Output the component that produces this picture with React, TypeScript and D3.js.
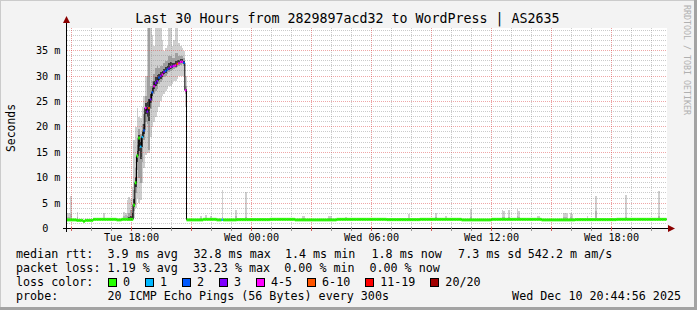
import React from "react";
import * as d3 from "d3";

// ---------------- data ----------------
const TITLE = "Last 30 Hours from 2829897acd32 to WordPress | AS2635";
const END_TIME = new Date(2025, 11, 10, 20, 44, 56);
const SPAN_HOURS = 30;
const STEP_SECONDS = 300;

// median rtt (ms) as runs [count, value] before the event
const medianPreRuns: [number, number][] = [
  [6, 1.7], [4, 1.6], [1, 1.4], [5, 1.6], [14, 1.8], [3, 1.7], [7, 1.8],
];
// median rtt (ms) during the event, steps 40..71
const EVENT_START = 40;
const medianEvent = [
  4.6, 9.0, 14.3, 17.8, 16.1, 18.0, 19.3, 23.7, 23.0, 23.7, 25.4, 26.8, 28.0, 28.6, 29.0, 29.7,
  30.0, 30.3, 30.8, 31.0, 31.3, 31.5, 31.8, 31.9, 32.0, 32.1, 32.4, 32.5, 32.8, 32.8, 32.6, 27.2,
];
// median rtt (ms) as runs after the event
const medianPostRuns: [number, number][] = [
  [10, 1.7], [8, 1.8], [12, 1.7], [20, 1.75], [15, 1.8], [25, 1.7], [30, 1.8], [20, 1.75],
  [25, 1.8], [18, 1.7], [30, 1.8], [20, 1.7], [25, 1.75], [30, 1.8],
];

// lost pings (of 20) during the event, steps 40..71
const lossEvent = [
  0, 0, 0, 0, 1, 1, 2, 4.5, 3, 6.6, 3, 2, 4.5, 2.5, 3, 2,
  3, 4, 3, 2, 2, 3, 4.5, 3, 4, 4, 6.2, 4, 4.5, 4, 2, 4.5,
];
const lossOtherIdx = [93];
const lossOtherVal = [1];

// smoke (ping distribution, ms) for steps 36..71
const SMOKE_START = 36;
const smokeMin = [
  1.5, 1.5, 1.5, 1.6, 2.0, 4.0, 6.0, 5.0, 5.6, 9.0, 12.0, 14.5, 14.8, 14.8, 18.0, 20.0,
  21.0, 22.0, 23.0, 24.0, 25.0, 26.0, 26.5, 27.0, 27.5, 28.0, 28.0, 28.5, 29.0, 29.0, 29.5, 30.0,
  30.0, 30.0, 30.0, 24.0,
];
const smokeQ1 = [
  1.6, 1.7, 1.7, 1.7, 3.5, 7.0, 11.5, 10.0, 9.0, 13.0, 17.5, 21.0, 20.5, 15.5, 23.5, 25.0,
  26.5, 27.0, 27.5, 28.5, 28.8, 29.2, 29.8, 30.0, 30.5, 30.8, 31.0, 31.2, 31.4, 31.5, 31.8, 32.0,
  32.2, 32.3, 32.0, 26.5,
];
const smokeQ3 = [
  2.4, 3.0, 3.6, 4.8, 7.5, 12.0, 16.5, 19.5, 18.5, 20.5, 22.5, 26.0, 30.0, 45.0, 28.0, 29.0,
  30.5, 31.5, 32.0, 31.5, 32.0, 32.0, 32.5, 33.0, 33.0, 34.0, 34.0, 33.5, 33.5, 34.5, 34.5, 34.0,
  34.0, 34.0, 33.5, 28.0,
];
const smokeMax = [
  5.6, 6.2, 5.8, 8.2, 17.4, 20.0, 23.7, 22.0, 21.7, 24.0, 26.0, 30.0, 45.0, 45.0, 45.0, 38.0,
  36.0, 45.0, 45.0, 45.0, 45.0, 37.0, 35.0, 35.5, 36.0, 45.0, 45.0, 36.0, 37.0, 45.0, 45.0, 36.5,
  36.0, 35.5, 35.0, 30.0,
];

// isolated smoke spikes in the quiet part
const spikeIdx = [
  0, 1, 2, 6, 22, 34, 35, 80, 83, 86, 93, 101, 107, 141, 142, 157, 158, 167, 205, 221, 227, 242,
  261, 262, 265, 270, 271, 282, 283, 298, 299, 300, 302, 303, 312, 317, 335, 355,
];
const spikeMax = [
  3.1, 3.0, 6.4, 3.3, 3.0, 3.2, 3.0, 2.5, 2.6, 2.4, 7.5, 3.6, 7.2, 2.5, 2.4, 2.5, 2.5, 2.3, 2.8, 3.0, 2.5, 3.9,
  3.6, 3.4, 3.6, 3.9, 3.5, 2.5, 2.4, 3.0, 3.0, 2.8, 3.0, 2.9, 2.5, 6.4, 6.6, 7.4,
];
const spikeMid = [
  2.2, 2.2, 2.8, 2.2, 2.1, 2.4, 2.6, 2.0, 2.0, 2.0, 2.3, 2.4, 2.3, 2.0, 2.0, 2.0, 2.0, 2.0, 2.1, 2.2, 2.0, 2.3,
  2.3, 2.2, 2.3, 2.4, 2.2, 2.0, 2.0, 2.2, 2.2, 2.1, 2.2, 2.1, 2.0, 3.4, 2.3, 2.4,
];

const lossLabels = ["0", "1", "2", "3", "4-5", "6-10", "11-19", "20/20"];
const lossUpper = [0, 1, 2, 3, 5, 10, 19, 20];
const lossColors = ["#26ff00", "#00b8ff", "#0059ff", "#7e00ff", "#ff00ff", "#ff5500", "#ff0000", "#a10000"];

const rttStats = [3.9, 32.8, 1.4, 1.8, 7.3];
const rttStatNames = ["avg", "max", "min", "now", "sd"];
const rttAmps = 542.2;
const lossStats = [1.19, 33.23, 0.0, 0.0];
const lossStatNames = ["avg", "max", "min", "now"];
const PROBE = "20 ICMP Echo Pings (56 Bytes) every 300s";
const STAMP = "Wed Dec 10 20:44:56 2025";
const Y_LABEL = "Seconds";
const WATERMARK = "RRDTOOL / TOBI OETIKER";

// ---------------- derived ----------------
const expandRuns = (runs: [number, number][]) => {
  const out: number[] = [];
  runs.forEach(([c, v]) => {
    for (let k = 0; k < c; k++) out.push(v);
  });
  return out;
};
const median = [...expandRuns(medianPreRuns), ...medianEvent, ...expandRuns(medianPostRuns)];
const N = median.length;
const loss = median.map(() => 0);
lossEvent.forEach((v, k) => (loss[EVENT_START + k] = v));
lossOtherIdx.forEach((idx, k) => (loss[idx] = lossOtherVal[k]));

const START = new Date(END_TIME.getTime() - SPAN_HOURS * 3600 * 1000);
const MONO = "'DejaVu Sans Mono', monospace";
const CW = 7.04; // legend char advance
const LX = 16; // legend left

const colorFor = (l: number) => lossColors[Math.max(0, lossUpper.findIndex((u) => l <= u))];

export default function App() {
  const x = d3.scaleTime().domain([START, END_TIME]).range([66.5, 666.5]);
  const yMax = (d3.max(median) as number) * 1.2;
  const y = d3.scaleLinear().domain([0, yMax]).range([228.5, 28.5]);
  const crisp = (v: number) => Math.round(v - 0.5) + 0.5;
  const stepX = (i: number) => x(new Date(START.getTime() + i * STEP_SECONDS * 1000));

  // smoke per step
  const smoke = median.map((m, i) => {
    const k = i - SMOKE_START;
    if (k >= 0 && k < smokeMin.length) {
      return { lo: smokeMin[k], q1: smokeQ1[k], q3: smokeQ3[k], hi: smokeMax[k], dark: true };
    }
    const s = spikeIdx.indexOf(i);
    if (s >= 0) return { lo: m - 0.15, q1: m - 0.05, q3: spikeMid[s], hi: spikeMax[s], dark: false };
    return { lo: m - 0.15, q1: m - 0.05, q3: m + 0.1, hi: m + 0.25, dark: false };
  });

  const medLine = d3
    .line<[number, number]>()
    .x((d) => d[0])
    .y((d) => d[1])
    .curve(d3.curveStepAfter);
  const linePts: [number, number][] = median.map((m, i) => [stepX(i), y(m)]);
  linePts.push([stepX(N), y(median[N - 1])]);

  const hours = d3.timeHour.range(d3.timeHour.ceil(START), END_TIME);
  const yMinor = d3.range(1, Math.floor(yMax) + 1).filter((v) => v % 5 !== 0);
  const yMajor = d3.range(5, Math.floor(yMax) + 1, 5);
  const yLabels = d3.range(0, Math.floor(yMax) + 1, 5);
  const fmtHour = d3.timeFormat("%a %H:%M");

  // legend chunks (rrdtool places each GPRINT separately)
  const rttCols = [13, 25.2, 38.2, 50.5, 62.8];
  const row1: { col: number; text: string }[] = [{ col: 0, text: "median rtt:" }];
  rttStats.forEach((v, k) => row1.push({ col: rttCols[k], text: `${v.toFixed(1)} ms ${rttStatNames[k]}` }));
  row1.push({ col: 72.7, text: `${rttAmps.toFixed(1)} m am/s` });
  const lossCols = [13, 25.1, 38.1, 50.2];
  const row2: { col: number; text: string }[] = [{ col: 0, text: "packet loss:" }];
  lossStats.forEach((v, k) => row2.push({ col: lossCols[k], text: `${v.toFixed(2)} % ${lossStatNames[k]}` }));

  const boxes: { x: number; label: string; color: string }[] = [];
  let bx = 108.5;
  lossLabels.forEach((lab, k) => {
    boxes.push({ x: bx, label: lab, color: lossColors[k] });
    bx += (lab.length + 4) * CW + 1.8;
  });

  const plot = { l: 67, t: 28, r: 667, b: 228 };

  return (
    <div style={{ position: "absolute", left: 0, top: 0 }}>
      <svg width={697} height={310} style={{ display: "block" }} fontFamily={MONO}>
        <defs>
          <clipPath id="plotclip">
            <rect x={plot.l} y={plot.t} width={plot.r - plot.l} height={plot.b - plot.t + 1} />
          </clipPath>
        </defs>
        {/* background + frame */}
        <rect x={0} y={0} width={697} height={310} fill="#f3f3f3" />
        <rect x={0} y={0} width={697} height={1} fill="#cbcbcb" />
        <rect x={0} y={0} width={1} height={310} fill="#cbcbcb" />
        <rect x={694} y={0} width={3} height={310} fill="#a3a3a3" />
        <rect x={0} y={307} width={697} height={3} fill="#a3a3a3" />
        <rect x={plot.l} y={plot.t} width={plot.r - plot.l} height={plot.b - plot.t} fill="#ffffff" />

        {/* smoke */}
        <g clipPath="url(#plotclip)" shapeRendering="crispEdges">
          {smoke.map((s, i) => (
            <rect key={"l" + i} x={stepX(i)} width={stepX(i + 1) - stepX(i)} y={y(s.hi)} height={Math.max(0, y(s.lo) - y(s.hi))} fill="#cfcfcf" />
          ))}
          {smoke.map((s, i) => (
            <rect key={"m" + i} x={stepX(i)} width={stepX(i + 1) - stepX(i)} y={y(s.q3)} height={Math.max(0, y(s.q1) - y(s.q3))} fill={s.dark ? "#a0a0a0" : "#b4b4b4"} />
          ))}
          {smoke.map((s, i) => {
            if (!s.dark) return null;
            const m = median[i];
            const top = Math.min(m + (s.q3 - m) * 0.4, m + 1.8);
            const bot = Math.max(m - (m - s.q1) * 0.4, m - 2.5);
            return <rect key={"d" + i} x={stepX(i)} width={stepX(i + 1) - stepX(i)} y={y(top)} height={Math.max(0, y(bot) - y(top))} fill="#3a3a3a" />;
          })}
        </g>

        {/* grid */}
        <g strokeWidth={1} strokeDasharray="1,1" fill="none">
          {yMinor.map((v) => (
            <line key={"ym" + v} x1={plot.l} x2={plot.r} y1={crisp(y(v))} y2={crisp(y(v))} stroke="rgba(140,140,140,0.45)" />
          ))}
          {hours.filter((h) => h.getHours() % 3 !== 0).map((h) => (
            <line key={"xm" + +h} x1={crisp(x(h))} x2={crisp(x(h))} y1={plot.t} y2={plot.b} stroke="rgba(140,140,140,0.45)" />
          ))}
          {yMajor.map((v) => (
            <line key={"yM" + v} x1={plot.l} x2={plot.r} y1={crisp(y(v))} y2={crisp(y(v))} stroke="rgba(220,60,60,0.45)" />
          ))}
          {hours.filter((h) => h.getHours() % 3 === 0).map((h) => (
            <line key={"xM" + +h} x1={crisp(x(h))} x2={crisp(x(h))} y1={plot.t} y2={plot.b + 3} stroke="rgba(220,60,60,0.5)" />
          ))}
        </g>

        {/* median line coloured by loss */}
        <g clipPath="url(#plotclip)">
          <path d={medLine(linePts) || ""} fill="none" stroke="#000" strokeWidth={1} />
          {median.map((m, i) => {
            const h = loss[i] > 0 ? 2.2 : 3;
            return (
              <rect key={"c" + i} x={stepX(i)} width={stepX(i + 1) - stepX(i)} y={y(m) - h / 2} height={h} fill={colorFor(loss[i])} />
            );
          })}
        </g>

        {/* axes */}
        <g shapeRendering="crispEdges">
          <line x1={63} x2={669} y1={228.5} y2={228.5} stroke="#000" />
          <line x1={66.5} x2={66.5} y1={232} y2={22} stroke="#000" />
          {hours.map((h) => (
            <line key={"t" + +h} x1={crisp(x(h))} x2={crisp(x(h))} y1={227} y2={231} stroke={h.getHours() % 3 === 0 ? "#d06060" : "#999"} />
          ))}
        </g>
        <polygon points="668,225 668,232 675,228.5" fill="#8b0000" />
        <polygon points="63,23 70,23 66.5,16" fill="#8b0000" />

        {/* y labels */}
        <g fontSize={10.2} fill="#000">
          {yLabels.map((v) => (
            <text key={"yl" + v} x={v === 0 ? 48.5 : 60.5} y={crisp(y(v)) + 3.8} textAnchor="end">
              {v === 0 ? "0" : `${v} m`}
            </text>
          ))}
        </g>
        {/* x labels */}
        <g fontSize={10.2} fill="#000">
          {hours.filter((h) => h.getHours() % 6 === 0).map((h) => (
            <text key={"xl" + +h} x={crisp(x(h))} y={241} textAnchor="middle">
              {fmtHour(h)}
            </text>
          ))}
        </g>

        {/* title & labels */}
        <text x={347.5} y={23} fontSize={13.3} textAnchor="middle" fill="#000">
          {TITLE}
        </text>
        <text transform="translate(15,128) rotate(-90)" fontSize={11.4} textAnchor="middle" fill="#000">
          {Y_LABEL}
        </text>
        <text transform="translate(684,5) rotate(90)" fontSize={8.3} fill="#b0b0b0">
          {WATERMARK}
        </text>

        {/* legend */}
        <g fontSize={11.7} fill="#000" style={{ whiteSpace: "pre" }}>
          {row1.map((c, k) => (
            <text key={"r1" + k} x={LX + c.col * CW} y={258.3} xmlSpace="preserve">{c.text}</text>
          ))}
          {row2.map((c, k) => (
            <text key={"r2" + k} x={LX + c.col * CW} y={272.3} xmlSpace="preserve">{c.text}</text>
          ))}
          <text x={LX} y={286.3}>loss color:</text>
          {boxes.map((b) => (
            <g key={"b" + b.label}>
              <rect x={b.x} y={278.5} width={8} height={8} fill={b.color} stroke="#000" strokeWidth={1} shapeRendering="crispEdges" />
              <text x={b.x + 14.5} y={286.3}>{b.label}</text>
            </g>
          ))}
          <text x={LX} y={300.3}>probe:</text>
          <text x={LX + 13 * CW} y={300.3}>{PROBE}</text>
          <text x={681} y={300.3} textAnchor="end">{STAMP}</text>
        </g>
      </svg>
    </div>
  );
}
